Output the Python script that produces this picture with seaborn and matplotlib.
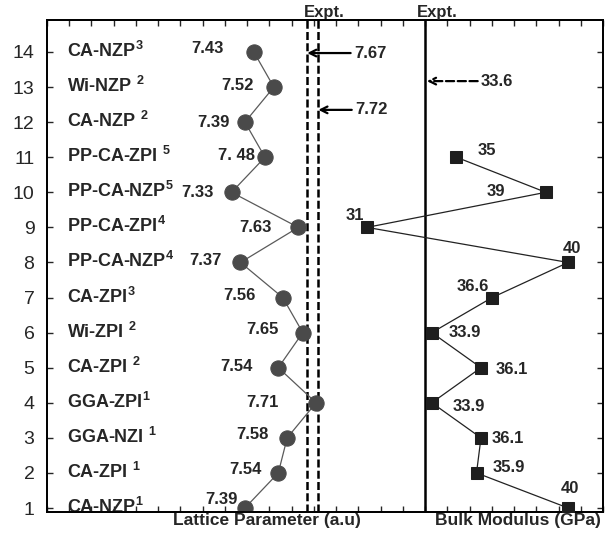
import matplotlib
matplotlib.use("Agg")
import numpy as np
import pandas as pd
import seaborn as sns
import matplotlib.pyplot as plt
import matplotlib.transforms as mtransforms

# ---------------- data ----------------
positions = list(range(1, 15))
compounds = ["CA-NZP", "CA-ZPI ", "GGA-NZI ", "GGA-ZPI", "CA-ZPI ", "Wi-ZPI ",
             "CA-ZPI", "PP-CA-NZP", "PP-CA-ZPI", "PP-CA-NZP", "PP-CA-ZPI ",
             "CA-NZP ", "Wi-NZP ", "CA-NZP"]
refs = [1, 1, 1, 1, 2, 2, 3, 4, 4, 5, 5, 2, 2, 3]
lattice = [7.39, 7.54, 7.58, 7.71, 7.54, 7.65, 7.56, 7.37, 7.63, 7.33, 7.48, 7.39, 7.52, 7.43]
lattice_labels = ["7.39", "7.54", "7.58", "7.71", "7.54", "7.65", "7.56", "7.37",
                  "7.63", "7.33", "7. 48", "7.39", "7.52", "7.43"]
bulk_positions = list(range(1, 12))
bulk = [40, 35.9, 36.1, 33.9, 36.1, 33.9, 36.6, 40, 31, 39, 35]
bulk_labels = ["40", "35.9", "36.1", "33.9", "36.1", "33.9", "36.6", "40", "31", "39", "35"]
expt_lattice = [7.67, 7.72]
expt_lattice_labels = ["7.67", "7.72"]
expt_bulk = 33.6
expt_bulk_label = "33.6"

# ---------------- layout (pixel offsets of value labels) ----------------
lat_off = [(-7, 9), (-17, 3), (-19, 3), (-37, 0), (-26, 1), (-24, 3), (-27, 2),
           (-19, 2), (-27, 0), (-18, 0), (-10, 2), (-15, 0), (-20, 2), (-30, 3)]
bulk_off = [(2, 20), (32, 5), (27, -1), (37, -4), (31, -2), (33, 0), (-19, 11),
            (4, 14), (-12, 12), (-50, 1), (30, 7)]
PT = 0.72  # px -> points at 100 dpi

sns.set_style("white")
plt.rcParams["font.family"] = ["Liberation Sans", "DejaVu Sans"]
plt.rcParams["mathtext.fontset"] = "custom"
plt.rcParams["mathtext.rm"] = "Liberation Sans"
plt.rcParams["mathtext.bf"] = "Liberation Sans:bold"

lat_df = pd.DataFrame({"pos": positions, "lattice": lattice})
bulk_df = pd.DataFrame({"pos": bulk_positions, "bulk": bulk})

fig = plt.figure(figsize=(6.05, 5.42), dpi=100)
ax = fig.add_axes([47 / 605, 1 - 512 / 542, 556 / 605, 492 / 542])
ax2 = ax.twiny()

sns.lineplot(data=lat_df, x="lattice", y="pos", orient="y", ax=ax,
             color="#5a5a5a", linewidth=0.9, marker="o", markersize=11,
             markerfacecolor="#4a4a4a", markeredgecolor="#4a4a4a", zorder=3)
sns.lineplot(data=bulk_df, x="bulk", y="pos", orient="y", ax=ax2,
             color="#222222", linewidth=0.9, marker="s", markersize=8.5,
             markerfacecolor="#1e1e1e", markeredgecolor="#1e1e1e", zorder=3)

ax.set_xlim(6.5, 9.0)
ax2.set_xlim(16.68, 41.56)
ax.set_ylim(1 - 4 / 35.08, 14 + 32 / 35.08)

for v in expt_lattice:
    ax.axvline(v, color="black", lw=1.8, ls=(0, (3.2, 1.3)), zorder=2)
ax2.axvline(expt_bulk, color="black", lw=1.8, zorder=2)

ax.set_xlabel("")
ax.set_ylabel("")
ax2.set_xlabel("")
ax2.set_ylabel("")
ax2.set_xticks([])

ax.set_xticks(np.arange(6.5, 9.001, 0.1))
ax.set_xticklabels([])
ax.set_yticks(positions)
ax.set_yticklabels([str(p) for p in positions])
ax.tick_params(axis="x", direction="in", top=True, bottom=True, length=4, width=1)
ax.tick_params(axis="y", direction="in", left=True, right=True, length=4, width=1,
               labelsize=14, pad=9)
for a in (ax, ax2):
    for s in a.spines.values():
        s.set_linewidth(1.3)
        s.set_color("black")

# compound labels
for p, c, r in zip(positions, compounds, refs):
    ax.annotate(c + r"$^{\mathbf{%d}}$" % r, xy=(20 / 556, p),
                xycoords=("axes fraction", "data"),
                xytext=(0, -5 * PT), textcoords="offset points",
                ha="left", va="baseline", fontsize=13, fontweight="bold")

# lattice value labels
for p, v, lab, (dx, dy) in zip(positions, lattice, lattice_labels, lat_off):
    ax.annotate(lab, xy=(v, p), xytext=(dx * PT, dy * PT), textcoords="offset points",
                ha="right", va="center", fontsize=12, fontweight="bold")

# bulk value labels
for p, v, lab, (dx, dy) in zip(bulk_positions, bulk, bulk_labels, bulk_off):
    ax2.annotate(lab, xy=(v, p), xytext=(dx * PT, dy * PT), textcoords="offset points",
                 ha="center", va="center", fontsize=12, fontweight="bold")

# experimental arrows
ax.annotate(expt_lattice_labels[0], xy=(expt_lattice[0], 13.97), xytext=(7.88, 13.97),
            ha="left", va="center", fontsize=12, fontweight="bold",
            arrowprops=dict(arrowstyle="->", lw=1.6, color="black", shrinkA=0, shrinkB=0))
ax.annotate(expt_lattice_labels[1], xy=(expt_lattice[1], 12.35), xytext=(7.885, 12.35),
            ha="left", va="center", fontsize=12, fontweight="bold",
            arrowprops=dict(arrowstyle="->", lw=1.6, color="black", shrinkA=0, shrinkB=0))
ax2.annotate(expt_bulk_label, xy=(expt_bulk + 0.08, 13.17), xytext=(36.1, 13.17),
             ha="left", va="center", fontsize=12, fontweight="bold",
             arrowprops=dict(arrowstyle="->", lw=1.6, color="black", ls="--",
                             shrinkA=0, shrinkB=0))

# "Expt." headers
ax.text(7.745, 1 + 3 / 492, "Expt.", transform=mtransforms.blended_transform_factory(ax.transData, ax.transAxes),
        ha="center", va="baseline", fontsize=12, fontweight="bold")
ax2.text(34.13, 1 + 3 / 492, "Expt.", transform=mtransforms.blended_transform_factory(ax2.transData, ax2.transAxes),
         ha="center", va="baseline", fontsize=12, fontweight="bold")

# axis titles
fig.text(267 / 605, 1 - 521 / 542, "Lattice Parameter (a.u)", ha="center", va="center",
         fontsize=12.5, fontweight="bold")
fig.text(518 / 605, 1 - 521 / 542, "Bulk Modulus (GPa)", ha="center", va="center",
         fontsize=12.5, fontweight="bold")

fig.savefig("out.png", dpi=100)
